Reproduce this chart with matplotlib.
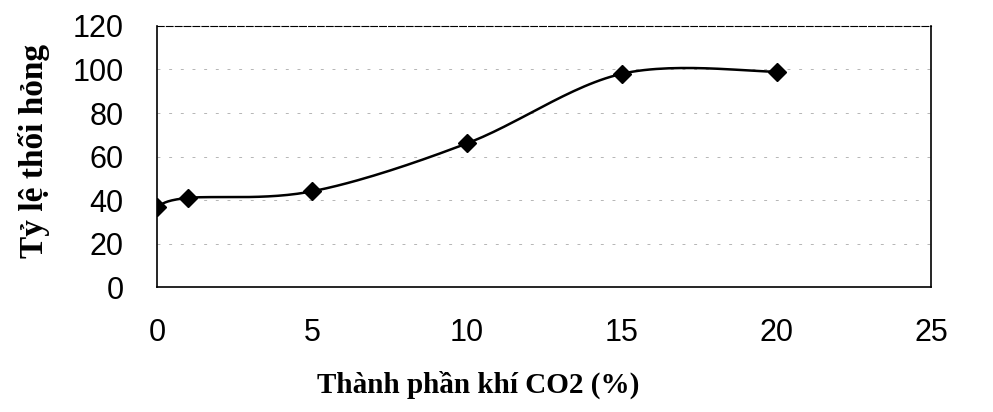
import numpy as np
import matplotlib.pyplot as plt

# du lieu doc tu hinh
co2 = [0, 1, 5, 10, 15, 20]
ty_le = [37, 41, 44, 66, 98, 99]
xticks = [0, 5, 10, 15, 20, 25]
yticks = [0, 20, 40, 60, 80, 100, 120]


def duongCong(x, y, n=30):
    # lam tron kieu Excel: Bezier voi diem dieu khien tu diem lan can
    x = np.asarray(x, float)
    y = np.asarray(y, float)
    px = np.concatenate([[x[0]], x, [x[-1]]])
    py = np.concatenate([[y[0]], y, [y[-1]]])
    xs, ys = [], []
    t = np.linspace(0, 1, n)
    for i in range(1, len(px) - 2):
        p0 = np.array([px[i], py[i]])
        p3 = np.array([px[i + 1], py[i + 1]])
        p1 = p0 + (np.array([px[i + 1], py[i + 1]]) - np.array([px[i - 1], py[i - 1]])) / 6
        p2 = p3 - (np.array([px[i + 2], py[i + 2]]) - np.array([px[i], py[i]])) / 6
        b = ((1 - t) ** 3)[:, None] * p0 + (3 * (1 - t) ** 2 * t)[:, None] * p1 \
            + (3 * (1 - t) * t ** 2)[:, None] * p2 + (t ** 3)[:, None] * p3
        xs.extend(b[:, 0])
        ys.extend(b[:, 1])
    return xs, ys


fig = plt.figure(figsize=(9.93, 4.12), dpi=100)
ax = fig.add_axes([0.158, 0.303, 0.78, 0.634])

for v in yticks[1:]:
    ax.axhline(v, color="#b5b5b5", lw=0.7, ls=(0, (3, 9)), zorder=1)

sx, sy = duongCong(co2, ty_le)
ax.plot(sx, sy, color="black", lw=1.8, zorder=3)
ax.plot(co2, ty_le, ls="none", marker="D", ms=9, color="black", zorder=4)

ax.set_xlim(0, 25)
ax.set_ylim(0, 120)
ax.set_xticks(xticks)
ax.set_yticks(yticks)
ax.tick_params(length=0, labelsize=22)
ax.tick_params(axis="x", pad=22)
ax.tick_params(axis="y", pad=24)
for lab in ax.get_xticklabels() + ax.get_yticklabels():
    lab.set_fontfamily("Liberation Sans")

for s in ax.spines.values():
    s.set_linewidth(1.2)
ax.spines["top"].set_linestyle((0, (6, 2)))
ax.spines["top"].set_linewidth(0.8)

ax.set_xlabel("Thành phần khí CO2 (%)", fontsize=21, fontweight="bold",
              fontfamily="Liberation Serif")
ax.xaxis.set_label_coords(0.415, -0.32)
ax.set_ylabel("Tỷ lệ thối hỏng", fontsize=24, fontweight="bold",
              fontfamily="Liberation Serif")
ax.yaxis.set_label_coords(-0.138, 0.52)

plt.savefig("out.png", dpi=100)
